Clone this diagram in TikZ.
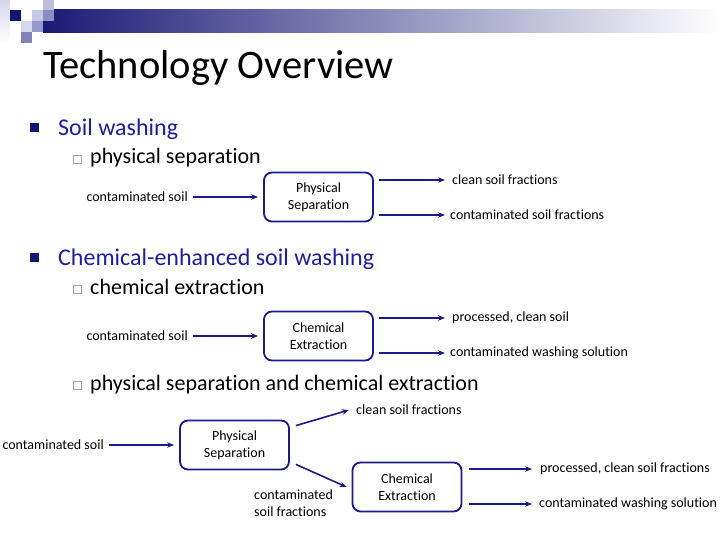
\documentclass[tikz,border=0pt]{standalone}
\usepackage{fontspec}
\setmainfont{Carlito}[Ligatures=NoCommon]
\usetikzlibrary{arrows.meta}
\definecolor{navy}{RGB}{26,26,140}
\definecolor{headblue}{RGB}{30,30,160}
\definecolor{barnavy}{RGB}{26,26,118}
\definecolor{dotnavy}{RGB}{20,20,115}

\begin{document}
\begin{tikzpicture}[%
      x=1pt, y=-1pt,
      proc/.style={draw=navy, line width=1.8pt, rounded corners=8pt,
        minimum width=109pt, minimum height=49pt, align=center,
        font=\fontsize{14}{17}\selectfont, inner sep=0pt},
      lbl/.style={font=\fontsize{14}{17}\selectfont, inner sep=2pt},
      flow/.style={draw=navy, line width=1.6pt, -{Stealth[length=7pt,width=5.5pt]}},
      head/.style={anchor=base west, text=headblue, font=\fontsize{24}{28}\selectfont, inner sep=0pt},
      sub/.style={anchor=base west, font=\fontsize{22}{26}\selectfont, inner sep=0pt},
      ]
      \useasboundingbox (0,0) rectangle (720,540);

      \shade [left color=barnavy, right color=white] (43,10) rectangle (720,33);
      \shade [top color={rgb,255:red,214;green,214;blue,236}, bottom color=white] (0,0) rectangle (10,43);
      \fill [color=dotnavy] (10,10) rectangle (21,21);
      \fill [color={rgb,255:red,200;green,200;blue,230}] (32,10) rectangle (43,21);
      \fill [color={rgb,255:red,190;green,190;blue,225}] (43,0) rectangle (54,10);
      \fill [color={rgb,255:red,140;green,140;blue,195}] (43,10) rectangle (54,21);
      \fill [color={rgb,255:red,215;green,215;blue,238}] (21,21) rectangle (32,32);
      \fill [color={rgb,255:red,150;green,150;blue,200}] (32,21) rectangle (43,32);
      \fill [color={rgb,255:red,130;green,130;blue,185}] (21,32) rectangle (32,43);

      \node [anchor=base west, font=\fontsize{40.5}{46}\selectfont, inner sep=0pt] (title) at (43,79) {Technology Overview};

      \fill [color=dotnavy] (30,123) rectangle (39,132);
      \node [head] (wash) at (58,136) {Soil washing};
      \draw [color=gray!70] (73.5,155.5) rectangle (81.5,163.5);
      \node [sub] (physsep) at (90,164) {physical separation};

      \node [lbl, anchor=east] (soil1) at (190,197) {contaminated soil};
      \node [proc] (sep1) at (318.5,197) {Physical\\Separation};
      \node [lbl, anchor=west] (clean1) at (450,180) {clean soil fractions};
      \node [lbl, anchor=west] (cont1) at (448,215) {contaminated soil fractions};
      \draw [flow, shorten <=3pt, shorten >=5pt] (soil1.east) -- (sep1.west);
      \draw [flow, shorten <=5pt, shorten >=5pt] (sep1.east |- clean1.west) -- (clean1.west);
      \draw [flow, shorten <=5pt, shorten >=3pt] (sep1.east |- cont1.west) -- (cont1.west);

      \fill [color=dotnavy] (30,253) rectangle (39,262);
      \node [head] (chemwash) at (58,265) {Chemical-enhanced soil washing};
      \draw [color=gray!70] (73.5,285.5) rectangle (81.5,293.5);
      \node [sub] (chemext) at (90,294) {chemical extraction};

      \node [lbl, anchor=east] (soil2) at (190,336) {contaminated soil};
      \node [proc] (ext2) at (318.5,336) {Chemical\\Extraction};
      \node [lbl, anchor=west] (clean2) at (450,318) {processed, clean soil};
      \node [lbl, anchor=west] (wash2) at (448,353) {contaminated washing solution};
      \draw [flow, shorten <=3pt, shorten >=5pt] (soil2.east) -- (ext2.west);
      \draw [flow, shorten <=5pt, shorten >=5pt] (ext2.east |- clean2.west) -- (clean2.west);
      \draw [flow, shorten <=5pt, shorten >=3pt] (ext2.east |- wash2.west) -- (wash2.west);

      \draw [color=gray!70] (73.5,381.5) rectangle (81.5,389.5);
      \node [sub] (both) at (90,390) {physical separation and chemical extraction};

      \node [lbl, anchor=east] (soil3) at (106,445) {contaminated soil};
      \node [proc] (sep3) at (234.5,445) {Physical\\Separation};
      \node [proc] (ext3) at (407,487) {Chemical\\Extraction};
      \node [lbl, anchor=west] (clean3) at (354,410) {clean soil fractions};
      \node [lbl, anchor=west, align=left] (frac3) at (252,503) {contaminated\\soil fractions};
      \node [lbl, anchor=west] (proc3) at (538,469) {processed, clean soil fractions};
      \node [lbl, anchor=west] (wash3) at (537,504) {contaminated washing solution};
      \draw [flow, shorten <=3pt, shorten >=5pt] (soil3.east) -- (sep3.west);
      \draw [flow] ([shift={(6,6)}]sep3.north east) -- ([xshift=-5pt]clean3.west);
      \draw [flow] ([shift={(6,-6)}]sep3.south east) -- ([xshift=-5pt]ext3.west);
      \draw [flow, shorten <=7pt, shorten >=6pt] (ext3.east |- proc3.west) -- (proc3.west);
      \draw [flow, shorten <=7pt, shorten >=5pt] (ext3.east |- wash3.west) -- (wash3.west);
\end{tikzpicture}
\end{document}
